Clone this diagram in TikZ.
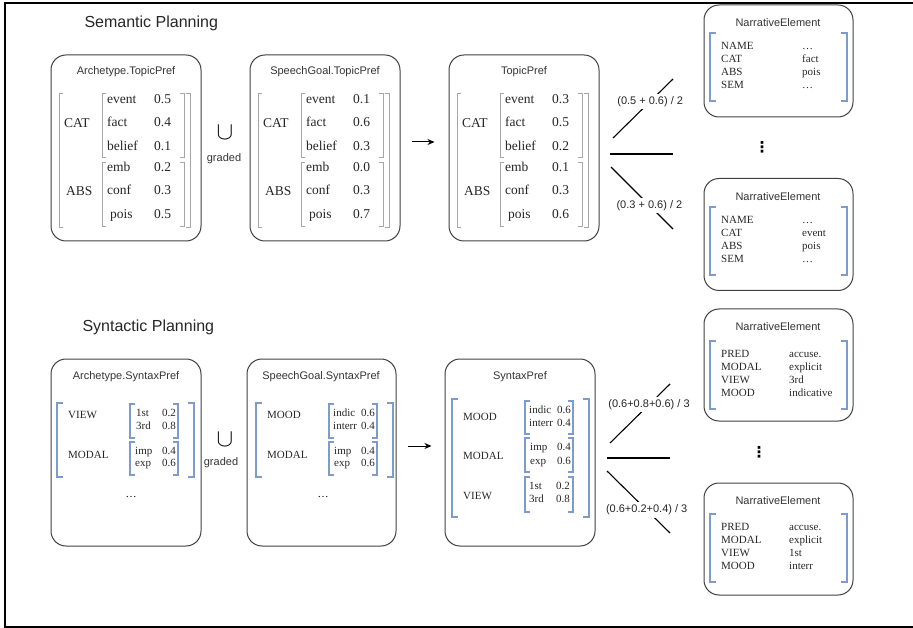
\documentclass[tikz,border=0pt]{standalone}
\usepackage{fontspec}
\setmainfont{Liberation Serif}
\setsansfont{Liberation Sans}
\newfontfamily\dotfont{DejaVu Sans}
\usetikzlibrary{arrows.meta}
\definecolor{avmblue}{RGB}{125,155,205}

\begin{document}
\begin{tikzpicture}[x=1pt,y=-1pt,
	box/.style={draw=black!75, line width=1pt, rounded corners=15pt, minimum width=150pt},
	ttl/.style={font=\fontsize{11}{13}\sffamily\selectfont, text=black!80},
	head/.style={font=\fontsize{16}{19}\sffamily\selectfont, text=black!85, anchor=west},
	sem/.style={font=\fontsize{13.5}{15}\selectfont, anchor=west, inner sep=0pt, text height=9pt, text depth=3pt, text=black!85},
	feat/.style={font=\fontsize{11}{12}\selectfont, anchor=west, inner sep=0pt, text height=7.5pt, text depth=2.5pt, text=black!85},
	gbr/.style={draw=black!35, line width=0.7pt},
	bbr/.style={draw=avmblue, line width=1.1pt},
	fan/.style={line width=1.1pt},
	lbl/.style={font=\fontsize{11}{13}\sffamily\selectfont, fill=white, inner sep=2.5pt, text=black!85},
	vdot/.style={font=\fontsize{15}{15}\dotfont\bfseries, inner sep=0pt}]
	\useasboundingbox (0,0) rectangle (913,628);
	
	% frame
	\draw[line width=2pt] (913,3) -- (5,3) -- (5,626.5) -- (913,626.5);
	
	\node[head] (semhead) at (81,23) {Semantic Planning};
	\node[head] (synhead) at (79,327) {Syntactic Planning};
	
	% semantic planning
	\foreach \dx/\nm/\hd/\va/\vb/\vc/\vd/\ve/\vf in {
		0/arch/Archetype.TopicPref/0.5/0.4/0.1/0.2/0.3/0.5,
		199/goal/SpeechGoal.TopicPref/0.1/0.6/0.3/0.0/0.3/0.7,
		398/topic/TopicPref/0.3/0.5/0.2/0.1/0.3/0.6}{
	\begin{scope}[xshift=\dx]
		\node[box, minimum height=186pt] (\nm) at (126,148) {};
		\node[ttl] (\nm-t) at (126,72) {\hd};
		\draw[gbr] (63,93) -- (59,93) -- (59,227) -- (63,227);
		\draw[gbr] (186,93) -- (190,93) -- (190,227) -- (186,227);
		\draw[gbr] (106,93) -- (102,93) -- (102,157) -- (106,157);
		\draw[gbr] (180,93) -- (184,93) -- (184,157) -- (180,157);
		\draw[gbr] (106,162) -- (102,162) -- (102,226) -- (106,226);
		\draw[gbr] (180,162) -- (184,162) -- (184,226) -- (180,226);
		\node[sem] (\nm-cat) at (64,125) {CAT};
		\node[sem] (\nm-abs) at (66,193) {ABS};
		\node[sem] (\nm-1) at (107,101) {event};
		\node[sem] (\nm-2) at (107,124) {fact};
		\node[sem] (\nm-3) at (107,148) {belief};
		\node[sem] (\nm-4) at (107,169) {emb};
		\node[sem] (\nm-5) at (107,192) {conf};
		\node[sem] (\nm-6) at (110,216) {pois};
		\node[sem] (\nm-v1) at (154,101) {\va};
		\node[sem] (\nm-v2) at (154,124) {\vb};
		\node[sem] (\nm-v3) at (154,148) {\vc};
		\node[sem] (\nm-v4) at (154,169) {\vd};
		\node[sem] (\nm-v5) at (154,192) {\ve};
		\node[sem] (\nm-v6) at (154,216) {\vf};
	\end{scope}
	}
	
	\node (cup1) at (225,133) {\fontsize{25}{25}\selectfont$\cup$};
	\node[ttl] (grd1) at (224,159) {graded};
	\draw[-{Stealth[length=7pt,width=6pt]}, line width=1pt] ([xshift=11pt,yshift=6pt]goal.east) -- ([xshift=-14pt,yshift=6pt]topic.west);
	
	% syntactic planning
	\node[box, minimum height=187pt] (sarch) at (126,452.5) {};
	\node[ttl] (sarch-t) at (126,377) {Archetype.SyntaxPref};
	\draw[bbr] (63,403) -- (57,403) -- (57,477) -- (63,477);
	\draw[bbr] (188,403) -- (194,403) -- (194,477) -- (188,477);
	\node[feat] (sarch-k1) at (68,416) {VIEW};
	\node[feat] (sarch-k2) at (68,456) {MODAL};
	\draw[bbr] (135,404) -- (130,404) -- (130,438) -- (135,438);
	\draw[bbr] (173,404) -- (178,404) -- (178,438) -- (173,438);
	\draw[bbr] (135,442) -- (130,442) -- (130,475) -- (135,475);
	\draw[bbr] (173,442) -- (178,442) -- (178,475) -- (173,475);
	\node[feat] (sarch-a1) at (136,414) {1st};
	\node[feat] (sarch-a2) at (136,427) {3rd};
	\node[feat] (sarch-a3) at (135,452) {imp};
	\node[feat] (sarch-a4) at (135,464) {exp};
	\node[feat] (sarch-b1) at (162,414) {0.2};
	\node[feat] (sarch-b2) at (162,427) {0.8};
	\node[feat] (sarch-b3) at (162,452) {0.4};
	\node[feat] (sarch-b4) at (162,464) {0.6};
	\node[font=\fontsize{11}{12}\selectfont] (sarch-d) at (131,497) {\dots};
	
	\node[box, minimum height=187pt, minimum width=149pt] (sgoal) at (321.5,452.5) {};
	\node[ttl] (sgoal-t) at (321,377) {SpeechGoal.SyntaxPref};
	\draw[bbr] (262,403) -- (256,403) -- (256,477) -- (262,477);
	\draw[bbr] (387,403) -- (393,403) -- (393,477) -- (387,477);
	\node[feat] (sgoal-k1) at (267,416) {MOOD};
	\node[feat] (sgoal-k2) at (267,456) {MODAL};
	\draw[bbr] (334,404) -- (329,404) -- (329,438) -- (334,438);
	\draw[bbr] (372,404) -- (377,404) -- (377,438) -- (372,438);
	\draw[bbr] (334,442) -- (329,442) -- (329,475) -- (334,475);
	\draw[bbr] (372,442) -- (377,442) -- (377,475) -- (372,475);
	\node[feat] (sgoal-a1) at (333,414) {indic};
	\node[feat] (sgoal-a2) at (333,427) {interr};
	\node[feat] (sgoal-a3) at (334,452) {imp};
	\node[feat] (sgoal-a4) at (334,464) {exp};
	\node[feat] (sgoal-b1) at (361,414) {0.6};
	\node[feat] (sgoal-b2) at (361,427) {0.4};
	\node[feat] (sgoal-b3) at (361,452) {0.4};
	\node[feat] (sgoal-b4) at (361,464) {0.6};
	\node[font=\fontsize{11}{12}\selectfont] (sgoal-d) at (323,497) {\dots};
	
	\node[box, minimum height=187pt] (stopic) at (520,452.5) {};
	\node[ttl] (stopic-t) at (520,377) {SyntaxPref};
	\draw[bbr] (458,399) -- (452,399) -- (452,517) -- (458,517);
	\draw[bbr] (583,399) -- (589,399) -- (589,517) -- (583,517);
	\node[feat] (stopic-k1) at (463,418) {MOOD};
	\node[feat] (stopic-k2) at (463,457) {MODAL};
	\node[feat] (stopic-k3) at (463,497) {VIEW};
	\draw[bbr] (530,401) -- (525,401) -- (525,434) -- (530,434);
	\draw[bbr] (568,401) -- (573,401) -- (573,434) -- (568,434);
	\draw[bbr] (530,438) -- (525,438) -- (525,472) -- (530,472);
	\draw[bbr] (568,438) -- (573,438) -- (573,472) -- (568,472);
	\draw[bbr] (530,477) -- (525,477) -- (525,512) -- (530,512);
	\draw[bbr] (568,477) -- (573,477) -- (573,512) -- (568,512);
	\node[feat] (stopic-a1) at (529,411) {indic};
	\node[feat] (stopic-a2) at (529,424) {interr};
	\node[feat] (stopic-a3) at (530,448) {imp};
	\node[feat] (stopic-a4) at (530,462) {exp};
	\node[feat] (stopic-a5) at (529,487) {1st};
	\node[feat] (stopic-a6) at (529,500) {3rd};
	\node[feat] (stopic-b1) at (557,411) {0.6};
	\node[feat] (stopic-b2) at (557,424) {0.4};
	\node[feat] (stopic-b3) at (557,448) {0.4};
	\node[feat] (stopic-b4) at (557,462) {0.6};
	\node[feat] (stopic-b5) at (556,487) {0.2};
	\node[feat] (stopic-b6) at (556,500) {0.8};
	
	\node (cup2) at (225,440) {\fontsize{25}{25}\selectfont$\cup$};
	\node[ttl] (grd2) at (221,463) {graded};
	\draw[-{Stealth[length=7pt,width=6pt]}, line width=1pt] ([xshift=11pt,yshift=6.5pt]sgoal.east) -- ([xshift=-13pt,yshift=6.5pt]stopic.west);
	
	% narrative elements
	\foreach \nm/\yb/\yt/\vx/\ka/\kb/\kc/\kd/\va/\vb/\vc/\vd in {
		ne1/61/33/802/NAME/CAT/ABS/SEM/\dots/fact/pois/\dots,
		ne2/234.5/207/802/NAME/CAT/ABS/SEM/\dots/event/pois/\dots,
		ne3/365/341/789/PRED/MODAL/VIEW/MOOD/accuse./explicit/3rd/indicative,
		ne4/539/514/789/PRED/MODAL/VIEW/MOOD/accuse./explicit/1st/interr}{
		\node[box, minimum width=149pt, minimum height=112pt] (\nm) at (778.5,\yb) {};
		\node[ttl] (\nm-t) at (778,\yb-38) {NarrativeElement};
		\draw[bbr] (716,\yt) -- (710,\yt) -- (710,\yt+68) -- (716,\yt+68);
		\draw[bbr] (841,\yt) -- (847,\yt) -- (847,\yt+68) -- (841,\yt+68);
		\node[feat] (\nm-k1) at (721,\yt+14) {\ka};
		\node[feat] (\nm-k2) at (721,\yt+27) {\kb};
		\node[feat] (\nm-k3) at (721,\yt+40) {\kc};
		\node[feat] (\nm-k4) at (721,\yt+53) {\kd};
		\node[feat] (\nm-v1) at (\vx,\yt+14) {\va};
		\node[feat] (\nm-v2) at (\vx,\yt+27) {\vb};
		\node[feat] (\nm-v3) at (\vx,\yt+40) {\vc};
		\node[feat] (\nm-v4) at (\vx,\yt+53) {\vd};
	}
	
	\node[vdot] (vd1) at (762,147) {⋮};
	\node[vdot] (vd2) at (759,452) {⋮};
	
	% fan lines
	\coordinate (f1a) at (613,138);
	\coordinate (f1b) at (673,79);
	\coordinate (f2a) at (610,154);
	\coordinate (f2b) at (673,154);
	\coordinate (f3a) at (611,167);
	\coordinate (f3b) at (673,229);
	\draw[fan] (f1a) -- node[lbl, pos=0.62] (w1) {(0.5 + 0.6) / 2} (f1b);
	\draw[fan] (f2a) -- (f2b);
	\draw[fan] (f3a) -- node[lbl, pos=0.62] (w3) {(0.3 + 0.6) / 2} (f3b);
	
	\coordinate (g1a) at (610,443);
	\coordinate (g1b) at (670,384);
	\coordinate (g2a) at (607,458);
	\coordinate (g2b) at (670,458);
	\coordinate (g3a) at (607,471);
	\coordinate (g3b) at (670,533);
	\draw[fan] (g1a) -- node[lbl, pos=0.65] (w4) {(0.6+0.8+0.6) / 3} (g1b);
	\draw[fan] (g2a) -- (g2b);
	\draw[fan] (g3a) -- node[lbl, pos=0.63] (w6) {(0.6+0.2+0.4) / 3} (g3b);
\end{tikzpicture}
\end{document}
